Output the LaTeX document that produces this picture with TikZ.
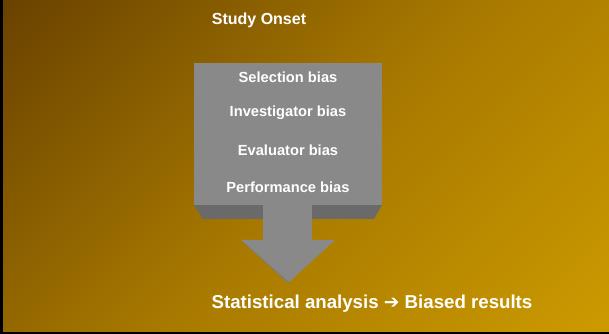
\documentclass[tikz,border=0pt]{standalone}
\usepackage{fontspec}
\setmainfont{Liberation Sans}
\newfontfamily\arrowfont{DejaVu Sans}
\definecolor{bgdark}{HTML}{6A4200}
\definecolor{bgmid}{HTML}{A67800}
\definecolor{bglight}{HTML}{CC9A00}
\definecolor{faceg}{HTML}{898989}
\definecolor{sideg}{HTML}{6A6A6A}
\pgfdeclarehorizontalshading{bgshade}{100bp}{color(0bp)=(bgdark); color(15bp)=(bgdark);
  color(50bp)=(bgmid); color(85bp)=(bglight); color(100bp)=(bglight)}

\begin{document}
\begin{tikzpicture}[x=0.75pt,y=-0.75pt,
  lbl/.style={text=white,inner sep=0pt,font=\bfseries\fontsize{11}{13}\selectfont}]
\useasboundingbox (0,0) rectangle (609,334);
% background
\shade[shading=bgshade,shading angle=-45] (0,0) rectangle (609,334);
\fill[black] (0,0) rectangle (3,334);
\fill[black] (0,332) rectangle (609,334);

% block arrow
\fill[sideg] (194,205) -- (382,205) -- (374,219) -- (203,219) -- cycle;
\fill[faceg] (194,63) rectangle (382,205);
\fill[faceg] (263,205) rectangle (312,240);
\fill[faceg] (241,240) -- (335,240) -- (288,283) -- cycle;
\fill[faceg!90!black] (241,240) -- (248,246) -- (290,283) -- (288,283) -- cycle;

\node[lbl,font=\bfseries\fontsize{12}{14}\selectfont] (onset) at (259,20) {Study Onset};

\node[lbl] (sel) at (288,77) {Selection bias};
\node[lbl] (inv) at (288,113) {Investigator bias};
\node[lbl] (eva) at (288,150) {Evaluator bias};
\node[lbl] (perf) at (288,187) {Performance bias};

\node[lbl,font=\bfseries\fontsize{14}{16}\selectfont] (result) at (372,304)
  {Statistical analysis {\arrowfont\bfseries ➔} Biased results};
\end{tikzpicture}
\end{document}
